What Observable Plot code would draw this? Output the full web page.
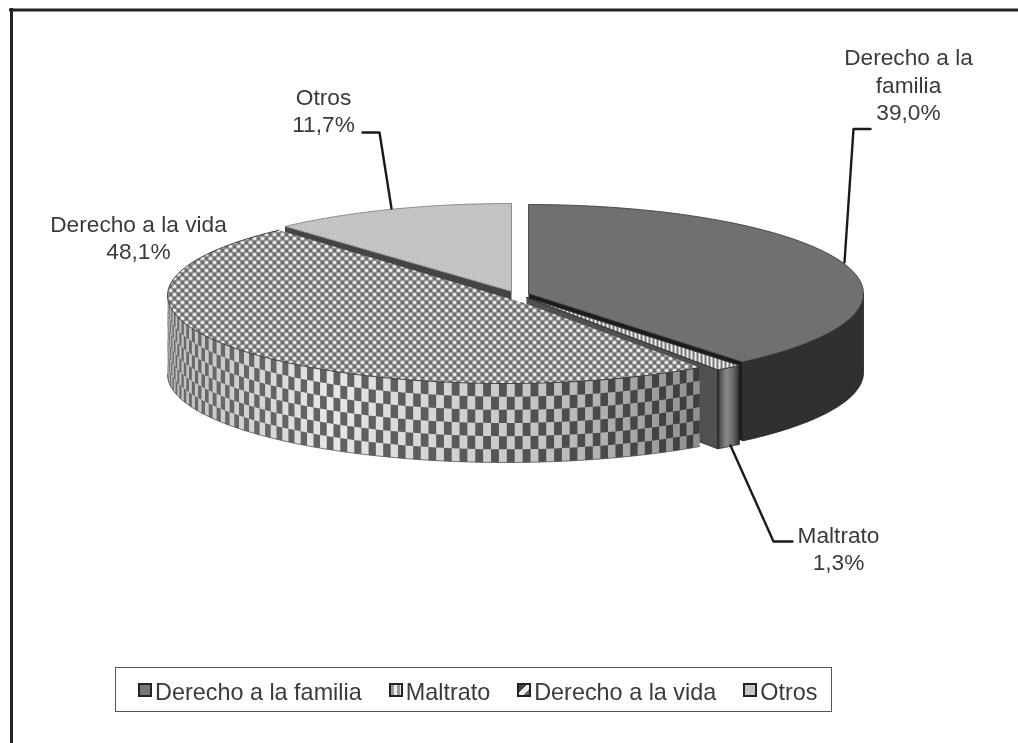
<!DOCTYPE html>
<html lang="es">
<head>
<meta charset="utf-8">
<title>Derechos</title>
<script src="https://cdn.jsdelivr.net/npm/d3@7"></script>
<script src="https://cdn.jsdelivr.net/npm/@observablehq/plot@0.6"></script>
<style>
  html, body { margin: 0; padding: 0; background: #fff; }
  #page { position: relative; width: 1018px; height: 743px; overflow: hidden; }
  #chart { position: absolute; left: 0; top: 0; filter: blur(0.55px); }
  #legend {
    position: absolute; left: 115px; top: 667px; width: 717px; height: 45px;
    border: 1.6px solid #555; background: #fff;
    display: flex; align-items: center; gap: 27px; padding: 5px 0 0 22px; box-sizing: border-box;
    font: 23.4px "Liberation Sans", Arial, sans-serif; color: #3a3a3a; filter: blur(0.4px);
  }
  #legend span.item { display: flex; align-items: center; white-space: nowrap; }
  #legend i { display: block; width: 10px; height: 10px; border: 2.2px solid #222; margin-right: 3px; margin-top: -4px; }
</style>
</head>
<body>
<div id="page">
  <div id="chart"></div>
  <div id="legend"></div>
</div>
<script>
// ---- data ----
const categories = ["Derecho a la familia", "Maltrato", "Derecho a la vida", "Otros"];
const values = [39.0, 1.3, 48.1, 11.7];
const valueLabels = ["39,0%", "1,3%", "48,1%", "11,7%"];
const labelLines = ["Derecho a la\nfamilia", "Maltrato", "Derecho a la vida", "Otros"];

// ---- layout of the exploded 3-D pie (one ellipse and apex per slice) ----
const depth = 79;
const ellipses = [
  {cx: 528, cy: 293, rx: 335, ry: 89, ax: 528, ay: 293},
  {cx: 526, cy: 296.5, rx: 333, ry: 89, ax: 526, ay: 297},
  {cx: 505, cy: 295, rx: 338, ry: 88, ax: 522, ay: 302},
  {cx: 511, cy: 292, rx: 338, ry: 89, ax: 511, ay: 291}
];
const labelPos = [[908, 83.5], [838, 547], [138, 236], [323, 109.5]];
const leaders = [
  [[844, 262], [853, 128.5], [870, 128.5]],
  [[730, 445], [773, 541], [792, 541]],
  [],
  [[362, 132], [379, 132], [391, 208]]
];

const total = d3.sum(values);
const cum = d3.cumsum(values);
const angles = values.map((v, i) => [(cum[i] - v) / total * 360, cum[i] / total * 360]);
const rad = d => d * Math.PI / 180;
const pt = (e, deg) => [e.cx + e.rx * Math.sin(rad(deg)), e.cy - e.ry * Math.cos(rad(deg))];
const arc = (e, a0, a1) => d3.range(0, 61).map(k => pt(e, a0 + (a1 - a0) * k / 60));
const shift = (p, dy) => [p[0], p[1] + dy];

const topFace = i => [[ellipses[i].ax, ellipses[i].ay], ...arc(ellipses[i], angles[i][0], angles[i][1])];
const sideFace = (i, a0, a1) => { const a = arc(ellipses[i], a0, a1);
  return [...a, ...a.slice().reverse().map(p => shift(p, depth))]; };
const wall = (i, deg) => { const e = ellipses[i], o = pt(e, deg), c = [e.ax, e.ay];
  return [c, o, shift(o, depth), shift(c, depth)]; };

const poly = (pts, fill, stroke = "none", strokeWidth = 0.8) =>
  Plot.line(pts, {x: d => d[0], y: d => d[1], fill, stroke, strokeWidth, strokeLinejoin: "round"});
const closed = p => [...p, p[0]];

// checkered side of the largest slice, foreshortened along the arc
const vidaIdx = 2, colStep = 1.34, rows = 6;
const checker = [];
{
  const e = ellipses[vidaIdx], a0 = angles[vidaIdx][0], a1 = Math.min(270, angles[vidaIdx][1]);
  const n = Math.ceil((a1 - a0) / colStep);
  for (let j = 0; j < n; j++) for (let r = 0; r < rows; r++) if ((j + r) % 2 === 0) {
    const p = pt(e, a0 + j * colStep), q = pt(e, Math.min(a1, a0 + (j + 1) * colStep));
    const h0 = r * depth / rows, h1 = (r + 1) * depth / rows, id = j + "-" + r;
    for (const c of [shift(p, h0), shift(q, h0), shift(q, h1), shift(p, h1)]) checker.push({id, x: c[0], y: c[1]});
  }
}

// fills
const defs = () => {
  const d = d3.create("svg:defs");
  const pat = (id, w, h, bg, rects) => {
    const p = d.append("pattern").attr("id", id).attr("width", w).attr("height", h).attr("patternUnits", "userSpaceOnUse");
    p.append("rect").attr("width", w).attr("height", h).attr("fill", bg);
    for (const [x, y, rw, rh, f] of rects) p.append("rect").attr("x", x).attr("y", y).attr("width", rw).attr("height", rh).attr("fill", f);
  };
  pat("pVida", 8, 8, "#6e6e6e", [[0.2, 0.4, 3.6, 3.2, "#fff"], [4.2, 4.4, 3.6, 3.2, "#fff"]]);
  pat("pOtros", 4, 4, "#cdcdcd", [[0, 0, 1.6, 1.6, "#a9a9a9"], [2, 2, 1.6, 1.6, "#b5b5b5"]]);
  pat("pMalt", 4, 4, "#eee", [[0, 0, 2, 4, "#777"]]);
  const grad = (id, attrs, stops) => {
    const g = d.append("linearGradient").attr("id", id);
    for (const k in attrs) g.attr(k, attrs[k]);
    for (const [o, c] of stops) g.append("stop").attr("offset", o).attr("stop-color", c);
  };
  const side = {gradientUnits: "userSpaceOnUse", x1: 167, x2: 700, y1: 0, y2: 0};
  grad("gVidaLight", side, [[0, "#bdbdbd"], [0.3, "#e6e6e6"], [0.7, "#c4c4c4"], [1, "#8f8f8f"]]);
  grad("gVidaDark", side, [[0, "#6a6a6a"], [0.5, "#5c5c5c"], [1, "#3e3e3e"]]);
  grad("gMalt", {x1: 0, x2: 1, y1: 0, y2: 0}, [[0, "#2c2c2c"], [0.12, "#555"], [0.4, "#8a8a8a"], [0.72, "#666"], [1, "#2e2e2e"]]);
  return d.node();
};

const [iF, iM, iV, iO] = [0, 1, 2, 3];
const marks = [
  defs,
  // frame
  Plot.ruleY([9.5], {x1: 9, x2: 1018, stroke: "#222", strokeWidth: 3}),
  Plot.ruleX([11], {y1: 8, y2: 743, stroke: "#222", strokeWidth: 3}),
  // Otros
  poly(wall(iO, angles[iO][0]), "#444"),
  poly(closed(topFace(iO)), "url(#pOtros)", "#777"),
  // Derecho a la familia
  poly(wall(iF, angles[iF][1]), "#1c1c1c"),
  poly(closed(sideFace(iF, 90, angles[iF][1])), "#303030", "#222"),
  poly(closed(topFace(iF)), "#707070", "#333"),
  // Maltrato
  poly(wall(iM, angles[iM][1]), "#505050", "#222"),
  poly(closed(sideFace(iM, angles[iM][0], angles[iM][1])), "url(#gMalt)", "#222"),
  poly(closed(topFace(iM)), "url(#pMalt)", "#333"),
  // Derecho a la vida
  poly(closed(sideFace(iV, angles[iV][0], 270)), "url(#gVidaLight)"),
  Plot.line(checker, {x: "x", y: "y", z: "id", fill: "url(#gVidaDark)", stroke: "none"}),
  poly(arc(ellipses[iV], angles[iV][0], 270).map(p => shift(p, depth)), "none", "#555", 0.8),
  poly(closed(topFace(iV)), "url(#pVida)"),
  poly(arc(ellipses[iV], angles[iV][0], angles[iV][1]), "none", "#333", 0.9),
  // leaders
  ...leaders.filter(l => l.length).map(l => poly(l, "none", "#1a1a1a", 2.4)),
  // labels
  Plot.text(categories.map((c, i) => i), {
    x: i => labelPos[i][0], y: i => labelPos[i][1],
    text: i => labelLines[i] + "\n" + valueLabels[i],
    fontSize: 22.7, lineHeight: 1.2, fill: "#3a3a3a", textAnchor: "middle"
  })
];

const plot = Plot.plot({
  width: 1018, height: 743, margin: 0,
  x: {domain: [0, 1018], range: [0, 1018], axis: null},
  y: {domain: [0, 743], range: [0, 743], axis: null},
  style: {background: "transparent", fontFamily: '"Liberation Sans", Arial, sans-serif'},
  marks
});
document.getElementById("chart").append(plot);

// legend
const swatches = [
  "background:#777",
  "background:repeating-linear-gradient(90deg,#999 0 3px,#eee 3px 6px)",
  "background:linear-gradient(135deg,#444 0 40%,#eee 40% 75%,#666 75%)",
  "background:#c6c6c6"
];
const legend = d3.select("#legend");
categories.forEach((c, i) => {
  const s = legend.append("span").attr("class", "item");
  s.append("i").attr("style", swatches[i]);
  s.append("span").text(c);
});
</script>
</body>
</html>
